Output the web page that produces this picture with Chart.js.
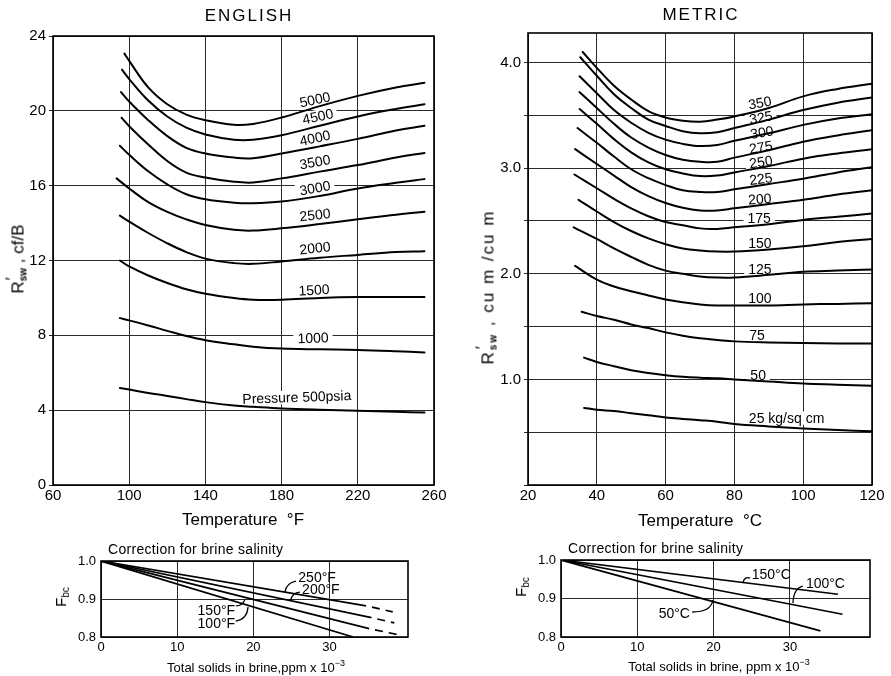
<!DOCTYPE html>
<html>
<head>
<meta charset="utf-8">
<script src="https://cdn.jsdelivr.net/npm/chart.js@4.4.1/dist/chart.umd.min.js"></script>
<style>
  html, body { margin: 0; padding: 0; background: #fff; }
  #page { position: relative; width: 891px; height: 676px; overflow: hidden;
          font-family: "Liberation Sans", Arial, sans-serif; color: #000; }
  canvas { position: absolute; left: 0; top: 0; }
  .t { position: absolute; white-space: nowrap; line-height: 1; transform: translate(-50%, -50%); }
  .l { position: absolute; white-space: nowrap; line-height: 1; transform: translate(0, -50%); }
  .rot { transform: translate(-50%, -50%) rotate(-90deg); }
  .sw { position: relative; font-size: 10px; font-weight: bold; vertical-align: -3px; }
  .sw .pr { position: absolute; left: 1px; top: -13px; font-size: 16px; font-weight: normal; }
  sub.bc { font-size: 10px; vertical-align: -3px; }
  sup.e { font-size: 9px; vertical-align: 6px; }
</style>
</head>
<body>
<div id="page">
  <canvas id="engMain" width="891" height="676"></canvas>
  <canvas id="metMain" width="891" height="676"></canvas>
  <canvas id="engBrine" width="891" height="676"></canvas>
  <canvas id="metBrine" width="891" height="676"></canvas>

  <div class="t" style="left:249px;top:15px;font-size:17px;letter-spacing:2px">ENGLISH</div>
  <div class="t" style="left:701px;top:14px;font-size:17px;letter-spacing:2px">METRIC</div>
  <div class="t" style="left:243px;top:519px;font-size:17px">Temperature &nbsp;°F</div>
  <div class="t" style="left:700px;top:520px;font-size:17px">Temperature &nbsp;°C</div>
  <div class="t rot" style="left:19px;top:259px;font-size:17px">R<span class="sw"><span class="pr">′</span>sw</span> , cf/B</div>
  <div class="t rot" style="left:489px;top:287px;font-size:17px;letter-spacing:2px">R<span class="sw"><span class="pr">′</span>sw</span> , cu m /cu m</div>

  <div class="l" style="left:108px;top:549px;font-size:14px;letter-spacing:0.3px">Correction for brine salinity</div>
  <div class="l" style="left:568px;top:548px;font-size:14px;letter-spacing:0.3px">Correction for brine salinity</div>
  <div class="t" style="left:256px;top:666px;font-size:13px">Total solids in brine,ppm x 10<sup class="e">−3</sup></div>
  <div class="t" style="left:719px;top:665px;font-size:13px">Total solids in brine, ppm x 10<sup class="e">−3</sup></div>
  <div class="t rot" style="left:62px;top:597px;font-size:15px">F<sub class="bc">bc</sub></div>
  <div class="t rot" style="left:522px;top:587px;font-size:15px">F<sub class="bc">bc</sub></div>
</div>

<script>
// ---------- English units: R'sw (cf/B) against temperature (°F), one curve per pressure ----------
const tempGridF = [100, 110, 120, 130, 140, 155, 165, 180, 200, 220, 240, 255];
const pressurePsia = [5000, 4500, 4000, 3500, 3000, 2500, 2000, 1500, 1000, 500];
const startTempF = [97.5, 96.2, 95.7, 96.0, 95.1, 93.4, 95.1, 95.1, 95.1, 95.1];
// first value belongs to the curve's start temperature, the rest to tempGridF
const rsw5000 = [23.06, 22.67, 21.25, 20.35, 19.8, 19.5, 19.25, 19.3, 19.64, 20.25, 20.8, 21.25, 21.5];
const rsw4500 = [22.2, 21.7, 20.55, 19.7, 19.1, 18.74, 18.46, 18.46, 18.7, 19.2, 19.7, 20.1, 20.35];
const rsw4000 = [21.0, 20.5, 19.5, 18.65, 18.02, 17.72, 17.5, 17.47, 17.72, 18.1, 18.5, 18.95, 19.2];
const rsw3500 = [19.63, 19.18, 18.2, 17.32, 16.7, 16.44, 16.21, 16.17, 16.39, 16.75, 17.1, 17.5, 17.75];
const rsw3000 = [18.13, 17.65, 16.77, 16.07, 15.54, 15.27, 15.09, 15.06, 15.15, 15.45, 15.85, 16.15, 16.35];
const rsw2500 = [16.39, 15.85, 15.12, 14.6, 14.2, 13.9, 13.64, 13.6, 13.72, 13.95, 14.2, 14.45, 14.6];
const rsw2000 = [14.4, 14.08, 13.47, 12.92, 12.45, 12.1, 11.86, 11.82, 11.95, 12.15, 12.3, 12.45, 12.5];
const rsw1500 = [12.0, 11.68, 11.2, 10.8, 10.46, 10.22, 9.99, 9.9, 9.9, 10.0, 10.05, 10.05, 10.05];
const rsw1000 = [8.92, 8.8, 8.53, 8.24, 7.96, 7.74, 7.52, 7.39, 7.29, 7.25, 7.22, 7.15, 7.08];
const rsw500  = [5.19, 5.1, 4.92, 4.76, 4.59, 4.43, 4.25, 4.18, 4.09, 4.02, 3.97, 3.91, 3.87];
const englishCurves = [rsw5000, rsw4500, rsw4000, rsw3500, rsw3000, rsw2500, rsw2000, rsw1500, rsw1000, rsw500];

// ---------- Metric units: R'sw (cu m/cu m) against temperature (°C), one curve per pressure ----------
const tempGridC = [40, 45, 50, 55, 60, 65, 70, 75, 80, 90, 100, 110, 120];
const pressureKg = [350, 325, 300, 275, 250, 225, 200, 175, 150, 125, 100, 75, 50, 25];
const startTempC = [35.9, 35.2, 35.0, 35.0, 35.0, 34.4, 33.7, 33.5, 34.7, 33.3, 33.7, 35.6, 36.3, 36.3];
const rswKg350 = [4.10, 3.95, 3.78, 3.65, 3.54, 3.48, 3.45, 3.44, 3.46, 3.49, 3.57, 3.68, 3.75, 3.80];
const rswKg325 = [4.05, 3.875, 3.70, 3.57, 3.46, 3.40, 3.35, 3.33, 3.34, 3.38, 3.46, 3.55, 3.62, 3.67];
const rswKg300 = [3.87, 3.71, 3.55, 3.43, 3.335, 3.27, 3.23, 3.21, 3.22, 3.26, 3.33, 3.41, 3.47, 3.51];
const rswKg275 = [3.72, 3.57, 3.42, 3.29, 3.195, 3.125, 3.08, 3.06, 3.06, 3.10, 3.17, 3.25, 3.31, 3.36];
const rswKg250 = [3.56, 3.42, 3.275, 3.15, 3.055, 2.99, 2.95, 2.925, 2.93, 2.96, 3.02, 3.09, 3.14, 3.18];
const rswKg225 = [3.38, 3.24, 3.11, 2.99, 2.905, 2.84, 2.79, 2.775, 2.775, 2.80, 2.85, 2.90, 2.96, 3.01];
const rswKg200 = [3.18, 3.04, 2.93, 2.82, 2.735, 2.67, 2.625, 2.60, 2.60, 2.62, 2.66, 2.70, 2.75, 2.79];
const rswKg175 = [2.94, 2.81, 2.71, 2.62, 2.545, 2.49, 2.46, 2.43, 2.425, 2.44, 2.47, 2.51, 2.54, 2.57];
const rswKg150 = [2.70, 2.59, 2.49, 2.405, 2.335, 2.28, 2.24, 2.22, 2.21, 2.21, 2.23, 2.26, 2.30, 2.33];
const rswKg125 = [2.44, 2.33, 2.24, 2.16, 2.085, 2.03, 2.0, 1.975, 1.965, 1.965, 1.99, 2.02, 2.03, 2.04];
const rswKg100 = [2.075, 1.944, 1.88, 1.835, 1.795, 1.757, 1.73, 1.71, 1.70, 1.70, 1.70, 1.71, 1.715, 1.72];
const rswKg75  = [1.64, 1.60, 1.565, 1.52, 1.486, 1.445, 1.414, 1.39, 1.374, 1.36, 1.35, 1.345, 1.34, 1.34];
const rswKg50  = [1.206, 1.165, 1.125, 1.087, 1.06, 1.04, 1.025, 1.016, 1.01, 1.0, 0.98, 0.96, 0.95, 0.94];
const rswKg25  = [0.73, 0.713, 0.70, 0.68, 0.66, 0.64, 0.626, 0.614, 0.60, 0.578, 0.555, 0.535, 0.52, 0.51];
const metricCurves = [rswKg350, rswKg325, rswKg300, rswKg275, rswKg250, rswKg225, rswKg200,
                      rswKg175, rswKg150, rswKg125, rswKg100, rswKg75, rswKg50, rswKg25];

// ---------- Brine salinity correction: straight lines from (0, 1.0) ----------
const freshFbc = 1.0;
const brineTempF = ['250°F', '200°F', '150°F', '100°F'];
const brineEndSolidsF = [34.8, 35.5, 35.2, 33.1];
const brineEndFbcF = [0.882, 0.851, 0.822, 0.800];
const brineDashSolidsF = [38.3, 38.5, 38.8];     // extrapolated (dashed) ends
const brineDashFbcF = [0.866, 0.837, 0.807];
const brineTempC = ['150°C', '100°C', '50°C'];
const brineEndSolidsC = [36.3, 36.9, 34.0];
const brineEndFbcC = [0.911, 0.859, 0.816];

// ---------- helpers ----------
Chart.defaults.font.family = '"Liberation Sans", Arial, sans-serif';
Chart.defaults.color = '#000';

const FONT = '"Liberation Sans", Arial, sans-serif';
const GRID = '#2a2a2a';

function toPoints(x0, grid, ys) {
  return [x0].concat(grid).map((x, i) => ({ x: x, y: ys[i] }));
}

// outline of the plotting area
const framePlugin = {
  id: 'frame',
  afterDatasetsDraw(chart) {
    const a = chart.chartArea, ctx = chart.ctx;
    ctx.save();
    ctx.strokeStyle = '#000';
    ctx.lineWidth = 1.6;
    ctx.strokeRect(a.left, a.top, a.right - a.left, a.bottom - a.top);
    ctx.restore();
  }
};

// curve captions, placed in data coordinates; optional white box behind, optional leader line
const captionPlugin = {
  id: 'captions',
  beforeDatasetsDraw(chart, args, opts) {
    const ctx = chart.ctx, xs = chart.scales.x, ys = chart.scales.y;
    ctx.save();
    ctx.font = opts.size + 'px ' + FONT;
    ctx.fillStyle = '#fff';
    (opts.items || []).forEach(it => {
      if (!it.box) return;
      const w = ctx.measureText(it.text).width;
      const h = opts.size * 0.8;
      const px = xs.getPixelForValue(it.x), py = ys.getPixelForValue(it.y);
      ctx.save();
      ctx.translate(px, py);
      ctx.rotate((it.angle || 0) * Math.PI / 180);
      let x0 = -w / 2;
      if (it.align === 'left') x0 = 0;
      if (it.align === 'right') x0 = -w;
      ctx.fillRect(x0 - 4, -h / 2 - 1, w + 8, h + 2);
      ctx.restore();
    });
    ctx.restore();
  },
  afterDatasetsDraw(chart, args, opts) {
    const ctx = chart.ctx, xs = chart.scales.x, ys = chart.scales.y;
    ctx.save();
    ctx.font = opts.size + 'px ' + FONT;
    ctx.fillStyle = '#000';
    ctx.strokeStyle = '#000';
    ctx.lineWidth = 1.3;
    ctx.textBaseline = 'middle';
    (opts.items || []).forEach(it => {
      const px = xs.getPixelForValue(it.x), py = ys.getPixelForValue(it.y);
      ctx.save();
      ctx.translate(px, py);
      ctx.rotate((it.angle || 0) * Math.PI / 180);
      ctx.textAlign = it.align || 'center';
      ctx.fillText(it.text, 0, 1);
      ctx.restore();
      if (it.leader) {
        const L = it.leader;
        ctx.beginPath();
        ctx.moveTo(xs.getPixelForValue(L[0]), ys.getPixelForValue(L[1]));
        ctx.quadraticCurveTo(xs.getPixelForValue(L[2]), ys.getPixelForValue(L[3]),
                             xs.getPixelForValue(L[4]), ys.getPixelForValue(L[5]));
        ctx.stroke();
      }
    });
    ctx.restore();
  }
};

const baseOptions = {
  responsive: false,
  animation: false,
  devicePixelRatio: 1,
  elements: { point: { radius: 0, hoverRadius: 0 } },
  events: []
};

function curveDataset(label, points, width) {
  return {
    label: label, data: points,
    borderColor: '#000', borderWidth: width, fill: false,
    tension: 0.4, pointRadius: 0, borderCapStyle: 'round', borderJoinStyle: 'round'
  };
}

function mainScales(xMin, xMax, xStep, yMin, yMax, yStep, yLabel) {
  return {
    x: {
      type: 'linear', min: xMin, max: xMax,
      ticks: { stepSize: xStep, padding: 2, font: { size: 15 }, autoSkip: false, maxRotation: 0 },
      grid: { color: GRID, lineWidth: 1, drawTicks: false },
      border: { display: false },
      afterFit: s => { s.height = 30; }
    },
    y: {
      type: 'linear', min: yMin, max: yMax,
      ticks: { stepSize: yStep, padding: 3, font: { size: 15 }, autoSkip: false, includeBounds: false, callback: yLabel },
      grid: { color: GRID, lineWidth: 1, tickLength: 4 },
      border: { display: false },
      afterFit: s => { s.width = 53; }
    }
  };
}

function brineScales(xMax) {
  return {
    x: {
      type: 'linear', min: 0, max: xMax,
      ticks: { stepSize: 10, padding: 3, font: { size: 13 }, autoSkip: false, maxRotation: 0 },
      afterBuildTicks: axis => { axis.ticks = axis.ticks.filter(t => t.value <= 30); },
      grid: { color: GRID, lineWidth: 1, drawTicks: false },
      border: { display: false },
      afterFit: s => { s.height = 20; }
    },
    y: {
      type: 'linear', min: 0.8, max: 1.0,
      ticks: { stepSize: 0.1, padding: 5, font: { size: 13 }, autoSkip: false, callback: v => v.toFixed(1) },
      grid: { color: GRID, lineWidth: 1, drawTicks: false },
      border: { display: false },
      afterFit: s => { s.width = 40; }
    }
  };
}

// ---------- English main chart ----------
new Chart(document.getElementById('engMain'), {
  type: 'line',
  data: {
    datasets: pressurePsia.map((p, i) =>
      curveDataset(p + ' psia', toPoints(startTempF[i], tempGridF, englishCurves[i]), 2))
  },
  options: Object.assign({}, baseOptions, {
    layout: { padding: { left: 0, top: 36, right: 457, bottom: 161 } },
    scales: mainScales(60, 260, 40, 0, 24, 4, v => String(v)),
    plugins: {
      legend: { display: false }, tooltip: { enabled: false },
      captions: {
        size: 14,
        items: [
          { text: '5000', x: 197.5, y: 20.6, angle: -12, box: true },
          { text: '4500', x: 199, y: 19.7, angle: -12, box: true },
          { text: '4000', x: 197.5, y: 18.55, angle: -12, box: true },
          { text: '3500', x: 197.5, y: 17.27, angle: -10, box: true },
          { text: '3000', x: 197.5, y: 15.88, angle: -10, box: true },
          { text: '2500', x: 197.5, y: 14.44, angle: -6, box: true },
          { text: '2000', x: 197.5, y: 12.67, angle: -6, box: true },
          { text: '1500', x: 197, y: 10.43, angle: -3, box: true },
          { text: '1000', x: 196.5, y: 7.86, angle: -2, box: true },
          { text: 'Pressure 500psia', x: 188, y: 4.7, angle: -2, box: true }
        ]
      }
    }
  }),
  plugins: [framePlugin, captionPlugin]
});

// ---------- Metric main chart ----------
new Chart(document.getElementById('metMain'), {
  type: 'line',
  data: {
    datasets: pressureKg.map((p, i) =>
      curveDataset(p + ' kg/sq cm', toPoints(startTempC[i], tempGridC, metricCurves[i]), 2))
  },
  options: Object.assign({}, baseOptions, {
    layout: { padding: { left: 475, top: 33, right: 19, bottom: 161 } },
    scales: mainScales(20, 120, 20, 0, 4.28, 0.5,
      v => (v > 0 && Math.abs(v - Math.round(v)) < 1e-6) ? v.toFixed(1) : ''),
    plugins: {
      legend: { display: false }, tooltip: { enabled: false },
      captions: {
        size: 14,
        items: [
          { text: '350', x: 87.4, y: 3.62, angle: -10, box: true },
          { text: '325', x: 87.7, y: 3.48, angle: -10, box: true },
          { text: '300', x: 88.0, y: 3.34, angle: -10, box: true },
          { text: '275', x: 87.7, y: 3.20, angle: -9, box: true },
          { text: '250', x: 87.7, y: 3.06, angle: -8, box: true },
          { text: '225', x: 87.7, y: 2.90, angle: -7, box: true },
          { text: '200', x: 87.4, y: 2.71, angle: -4, box: true },
          { text: '175', x: 87.2, y: 2.53, angle: 0, box: true },
          { text: '150', x: 87.4, y: 2.29, angle: 0, box: true },
          { text: '125', x: 87.4, y: 2.04, angle: 0, box: true },
          { text: '100', x: 87.4, y: 1.77, angle: 0, box: true },
          { text: '75', x: 86.6, y: 1.42, angle: 0, box: true },
          { text: '50', x: 86.9, y: 1.04, angle: 0, box: true },
          { text: '25 kg/sq cm', x: 84.2, y: 0.634, angle: 0, align: 'left', box: true }
        ]
      }
    }
  }),
  plugins: [framePlugin, captionPlugin]
});

// ---------- English brine correction ----------
const engBrineSets = brineTempF.map((t, i) => ({
  label: t,
  data: [{ x: 0, y: freshFbc }, { x: brineEndSolidsF[i], y: brineEndFbcF[i] }],
  borderColor: '#000', borderWidth: 1.7, pointRadius: 0, fill: false
}));
brineDashSolidsF.forEach((s, i) => {
  engBrineSets.push({
    label: brineTempF[i] + ' (extrapolated)',
    data: [{ x: brineEndSolidsF[i], y: brineEndFbcF[i] }, { x: s, y: brineDashFbcF[i] }],
    borderColor: '#000', borderWidth: 1.7, pointRadius: 0, fill: false,
    borderDash: [8, 6], borderDashOffset: 8
  });
});
new Chart(document.getElementById('engBrine'), {
  type: 'line',
  data: { datasets: engBrineSets },
  options: Object.assign({}, baseOptions, {
    layout: { padding: { left: 61, top: 561, right: 483, bottom: 19 } },
    scales: brineScales(40.3),
    plugins: {
      legend: { display: false }, tooltip: { enabled: false },
      captions: {
        size: 14,
        items: [
          { text: brineTempF[0], x: 25.9, y: 0.958, align: 'left', leader: [25.6, 0.947, 24.3, 0.942, 24.15, 0.918] },
          { text: brineTempF[1], x: 26.4, y: 0.926, align: 'left', leader: [26.1, 0.918, 25.1, 0.916, 24.9, 0.897] },
          { text: brineTempF[2], x: 17.6, y: 0.871, align: 'right', leader: [17.7, 0.882, 18.6, 0.882, 18.9, 0.899] },
          { text: brineTempF[3], x: 17.6, y: 0.837, align: 'right', leader: [17.7, 0.842, 19.2, 0.847, 19.3, 0.879] }
        ]
      }
    }
  }),
  plugins: [framePlugin, captionPlugin]
});

// ---------- Metric brine correction ----------
new Chart(document.getElementById('metBrine'), {
  type: 'line',
  data: {
    datasets: brineTempC.map((t, i) => ({
      label: t,
      data: [{ x: 0, y: freshFbc }, { x: brineEndSolidsC[i], y: brineEndFbcC[i] }],
      borderColor: '#000', borderWidth: 1.7, pointRadius: 0, fill: false
    }))
  },
  options: Object.assign({}, baseOptions, {
    layout: { padding: { left: 521, top: 560, right: 21, bottom: 19 } },
    scales: brineScales(40.5),
    plugins: {
      legend: { display: false }, tooltip: { enabled: false },
      captions: {
        size: 14,
        items: [
          { text: brineTempC[0], x: 25.0, y: 0.9636, align: 'left', leader: [24.8, 0.953, 24.0, 0.958, 23.85, 0.940] },
          { text: brineTempC[1], x: 32.1, y: 0.940, align: 'left', leader: [31.7, 0.932, 30.5, 0.927, 30.4, 0.888] },
          { text: brineTempC[2], x: 16.9, y: 0.862, align: 'right', leader: [17.2, 0.865, 19.7, 0.865, 19.9, 0.896] }
        ]
      }
    }
  }),
  plugins: [framePlugin, captionPlugin]
});
</script>
</body>
</html>
